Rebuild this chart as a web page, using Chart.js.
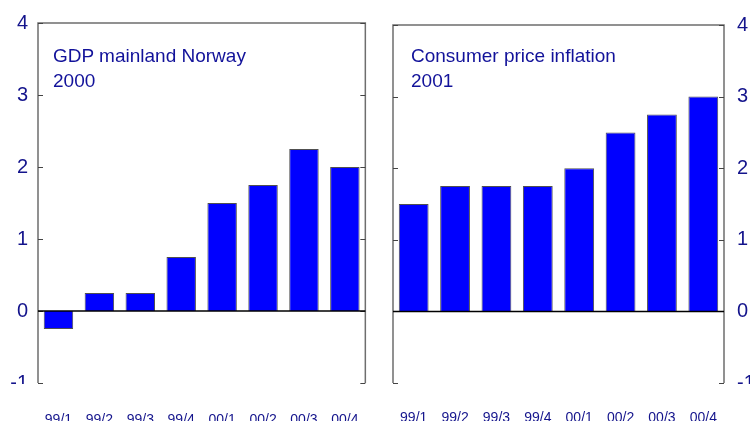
<!DOCTYPE html>
<html>
<head>
<meta charset="utf-8">
<script src="https://cdn.jsdelivr.net/npm/chart.js@4.4.1/dist/chart.umd.min.js"></script>
<style>
  html, body { margin: 0; padding: 0; background: #fff; }
  body { width: 750px; height: 421px; position: relative; overflow: hidden; }
  canvas { position: absolute; top: 0; }
  #cLeft { left: 0; }
  #cRight { left: 380px; }
  .title {
    position: absolute; top: 43px;
    font-family: "Liberation Sans", Arial, sans-serif;
    font-size: 19px; line-height: 25px; color: #12129a;
  }
</style>
</head>
<body>
<canvas id="cLeft" width="380" height="421"></canvas>
<canvas id="cRight" width="370" height="421"></canvas>
<div class="title" style="left:53px">GDP mainland Norway<br>2000</div>
<div class="title" style="left:411px">Consumer price inflation<br>2001</div>
<script>
// quarters on the x axis
const quarters = ['99/1', '99/2', '99/3', '99/4', '00/1', '00/2', '00/3', '00/4'];
// GDP mainland Norway, 2000 (left panel)
const gdpValues = [-0.25, 0.25, 0.25, 0.75, 1.5, 1.75, 2.25, 2.0];
// consumer price inflation, 2001 (right panel)
const cpiValues = [1.5, 1.75, 1.75, 1.75, 2.0, 2.5, 2.75, 3.0];
const yMin = -1, yMax = 4;

const labelColor = '#14148c';
const font = 'Liberation Sans, Arial, sans-serif';

// frame (left/right/top), inward ticks, zero line, and clip under the plot
const framePlugin = {
  id: 'frame',
  afterDatasetsDraw(chart) {
    const { ctx, chartArea: a } = chart;
    const y = chart.scales.y;
    ctx.save();
    ctx.strokeStyle = '#6e6e6e';
    ctx.lineWidth = 1.5;
    ctx.beginPath();
    ctx.moveTo(a.left, a.bottom); ctx.lineTo(a.left, a.top);
    ctx.lineTo(a.right, a.top); ctx.lineTo(a.right, a.bottom);
    ctx.stroke();
    ctx.strokeStyle = '#444';
    ctx.lineWidth = 1;
    y.ticks.forEach(t => {
      const py = Math.round(y.getPixelForValue(t.value)) + 0.5;
      ctx.beginPath();
      ctx.moveTo(a.left, py); ctx.lineTo(a.left + 5, py);
      ctx.moveTo(a.right, py); ctx.lineTo(a.right - 5, py);
      ctx.stroke();
    });
    const z = y.getPixelForValue(0);
    ctx.strokeStyle = '#000';
    ctx.lineWidth = 1.5;
    ctx.beginPath();
    ctx.moveTo(a.left, z); ctx.lineTo(a.right, z);
    ctx.stroke();
    ctx.restore();
  },
  afterDraw(chart) {
    const { ctx, chartArea: a } = chart;
    ctx.save();
    ctx.fillStyle = '#fff';
    ctx.fillRect(0, a.bottom + 1, chart.width, 15);
    ctx.restore();
  }
};

function makePanel(id, values, side, pad, xPad) {
  return new Chart(document.getElementById(id), {
    type: 'bar',
    data: {
      labels: quarters,
      datasets: [{
        data: values,
        backgroundColor: '#0000ff',
        borderColor: '#505050',
        borderWidth: 1,
        barPercentage: 0.72,
        categoryPercentage: 1
      }]
    },
    options: {
      responsive: false,
      animation: false,
      layout: { padding: pad },
      plugins: { legend: { display: false }, tooltip: { enabled: false } },
      scales: {
        x: {
          grid: { display: false },
          border: { display: false },
          ticks: {
            color: labelColor, font: { family: font, size: 14 },
            padding: xPad, maxRotation: 0, autoSkip: false
          },
          afterFit(s) { s.height = 38; }
        },
        y: {
          position: side,
          min: yMin, max: yMax,
          grid: { display: false, drawTicks: false },
          border: { display: false },
          ticks: {
            stepSize: 1,
            color: labelColor, font: { family: font, size: 20 },
            padding: side === 'left' ? 10 : 13
          },
          afterFit(s) { s.width = side === 'left' ? 38 : 26; }
        }
      }
    },
    plugins: [framePlugin]
  });
}

makePanel('cLeft', gdpValues, 'left', { top: 23, right: 8, left: 0, bottom: 0 }, 21);
makePanel('cRight', cpiValues, 'right', { top: 24, right: 0, left: 13, bottom: 0 }, 19);
</script>
</body>
</html>
